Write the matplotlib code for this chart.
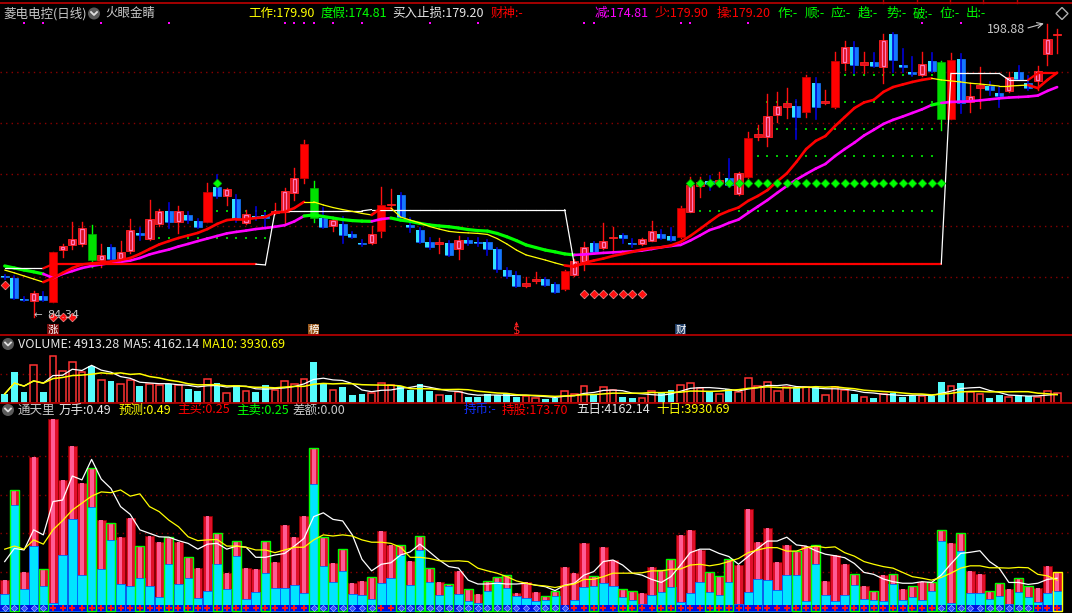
import numpy as np
import pandas as pd
import matplotlib
matplotlib.use("Agg")
import matplotlib.pyplot as plt
from matplotlib.patches import Rectangle, Ellipse, Polygon
from matplotlib.lines import Line2D

plt.rcParams['font.family'] = ['Noto Sans CJK SC', 'DejaVu Sans']

# ---------------- data ----------------
opens = [100.2, 99.6, 91.6, 90.75, 92.6, 90.4, 110.5, 112.5, 112.9, 116.8,
         106.6, 111.7, 106.9, 110.1, 117.0, 114.8, 120.7, 125.8, 121.5, 124.2,
         122.0, 121.6, 135.2, 131.7, 130.4, 121.2, 123.9, 124.2, 124.8, 125.4,
         132.6, 138.7, 134.7, 123.1, 120.0, 120.7, 116.8, 113.4, 113.4, 117.9,
         127.9, 132.0, 120.3, 118.3, 113.5, 112.9, 113.3, 110.9, 114.4, 113.7,
         113.7, 110.8, 102.7, 100.8, 96.6, 98.6, 99.2, 97.3, 95.4, 100.8,
         106.0, 113.2, 111.4, 115.2, 116.4, 113.3, 112.8, 114.2, 116.7, 116.0,
         115.7, 125.5, 135.6, 137.3, 136.6, 138.5, 132.3, 139.1, 154.7, 154.5,
         163.2, 166.5, 166.7, 164.5, 175.8, 167.8, 166.5, 183.6, 189.6, 182.7,
         183.8, 181.8, 194.8, 182.7, 180.1, 178.8, 184.3, 183.8, 161.7, 185.1,
         168.4, 173.6, 174.6, 171.9, 172.6, 179.9, 175.6, 176.5, 186.9, 194.5]
highs = [100.8, 100.4, 92.2, 94.7, 94.1, 109.8, 112.9, 121.6, 121.5, 120.3,
         112.9, 112.5, 114.2, 122.6, 119.1, 130.0, 126.5, 128.9, 127.7, 125.4,
         122.6, 136.7, 139.8, 134.7, 132.0, 126.1, 127.3, 125.0, 128.9, 134.7,
         142.4, 153.5, 137.5, 126.9, 122.6, 123.5, 117.6, 114.4, 119.9, 135.2,
         134.3, 132.8, 122.9, 119.1, 115.1, 115.2, 114.0, 116.0, 115.2, 115.1,
         114.4, 111.3, 103.5, 102.0, 100.1, 102.1, 99.6, 97.7, 102.7, 107.0,
         113.8, 113.7, 121.2, 119.6, 116.8, 114.7, 115.2, 121.8, 118.3, 119.0,
         127.8, 139.1, 139.1, 139.5, 141.1, 145.9, 141.0, 156.7, 159.3, 171.4,
         172.3, 173.6, 169.1, 178.8, 177.5, 173.0, 187.9, 192.2, 191.8, 187.7,
         187.4, 194.7, 195.2, 188.8, 186.0, 187.7, 187.3, 184.3, 187.3, 187.0,
         175.8, 182.1, 176.2, 174.3, 180.1, 182.3, 178.4, 182.3, 198.88, 196.7]
lows = [99.2, 91.4, 90.6, 84.34, 90.6, 90.2, 107.9, 110.9, 112.1, 104.0,
        104.0, 106.2, 106.6, 109.4, 114.4, 114.4, 119.9, 119.1, 117.3, 121.1,
        119.1, 121.5, 130.7, 128.1, 121.5, 120.7, 122.2, 119.1, 124.6, 121.1,
        130.0, 136.8, 121.6, 119.1, 118.1, 113.3, 115.2, 112.1, 112.9, 115.7,
        127.7, 123.0, 117.7, 113.3, 110.9, 109.4, 108.2, 106.9, 112.5, 112.1,
        108.6, 102.1, 99.6, 96.1, 96.1, 97.5, 96.5, 93.6, 95.1, 100.4,
        102.7, 109.4, 111.1, 110.5, 113.2, 111.8, 112.5, 113.9, 114.8, 114.0,
        115.4, 125.2, 131.3, 133.9, 135.9, 135.1, 132.0, 138.8, 153.5, 151.2,
        160.6, 162.2, 153.8, 162.5, 161.5, 167.5, 166.1, 180.8, 179.7, 179.7,
        181.9, 175.8, 180.1, 180.1, 178.4, 178.4, 180.0, 157.4, 161.5, 163.9,
        164.5, 165.8, 171.0, 166.2, 172.2, 176.9, 173.0, 173.0, 182.7, 187.3]
closes = [99.8, 91.8, 91.0, 93.6, 91.0, 109.75, 112.1, 114.8, 119.1, 106.75,
          108.6, 106.9, 109.75, 118.3, 116.4, 122.6, 125.75, 121.3, 125.75, 122.2,
          119.6, 133.2, 131.7, 134.3, 122.6, 124.6, 123.1, 123.1, 125.75, 133.55,
          138.6, 151.9, 123.2, 119.6, 122.2, 116.4, 115.7, 112.75, 116.8, 128.1,
          128.3, 123.5, 119.6, 113.8, 111.6, 113.8, 108.6, 114.4, 113.15, 113.15,
          110.8, 103.1, 100.4, 96.6, 97.5, 99.0, 97.0, 94.3, 102.3, 106.2,
          111.7, 109.9, 114.2, 115.5, 115.1, 113.0, 114.8, 117.9, 115.3, 114.4,
          127.0, 135.9, 137.0, 136.3, 137.8, 135.9, 140.5, 154.2, 155.8, 162.8,
          166.7, 167.8, 162.5, 177.9, 166.45, 168.7, 184.3, 189.6, 182.7, 183.8,
          182.4, 192.5, 184.7, 182.05, 179.1, 183.1, 180.5, 161.65, 184.7, 167.8,
          170.6, 174.9, 173.0, 170.6, 177.9, 177.25, 173.6, 180.4, 192.9, 194.9]
solid_red_bars = [5, 21, 31, 39, 58, 70, 77, 83, 86, 98]
green_bars = [9, 32, 97]

fast_line = [102.7, 101.6, 100.4, 99.2, 98.0, 99.6, 101.6, 103.5, 104.9, 105.3,
             105.7, 106.0, 106.6, 107.4, 109.0, 110.9, 112.7, 114.0, 115.2, 116.2,
             117.2, 118.7, 120.7, 122.2, 122.6, 122.6, 123.0, 123.4, 125.2, 125.4,
             126.9, 129.3, 129.3, 128.1, 127.1, 126.3, 125.6, 124.8, 124.2, 126.9,
             126.9, 123.4, 122.2, 121.1, 119.7, 118.7, 117.8, 117.4, 117.2, 117.0,
             116.6, 115.0, 112.9, 110.5, 108.6, 107.6, 106.6, 105.5, 104.5, 104.0,
             105.5, 106.4, 107.2, 108.2, 109.0, 109.8, 110.7, 111.3, 111.6, 112.3,
             113.7, 116.0, 118.7, 121.5, 124.2, 125.8, 127.1, 129.7, 131.6, 133.9,
             137.3, 140.4, 144.9, 149.9, 153.1, 155.0, 158.9, 162.4, 165.9, 168.1,
             169.1, 172.2, 174.1, 175.1, 176.1, 176.9, 177.5, 176.9, 176.5, 176.1,
             175.6, 175.3, 174.9, 174.5, 174.5, 174.7, 174.9, 173.7, 176.9, 179.7]
slow_line = [104.3, 103.5, 102.7, 102.0, 101.2, 99.6, 101.2, 102.3, 103.5, 104.3,
             104.9, 105.5, 105.9, 106.4, 107.4, 108.8, 109.8, 110.7, 111.9, 112.9,
             114.0, 115.0, 116.0, 117.0, 117.6, 118.1, 118.7, 119.1, 119.6, 120.2,
             121.7, 123.8, 124.2, 123.6, 123.0, 122.4, 122.0, 121.8, 121.7, 122.6,
             123.0, 122.2, 121.7, 120.9, 120.3, 119.9, 119.6, 119.1, 118.5, 118.1,
             117.9, 117.0, 115.7, 114.2, 112.5, 111.5, 110.5, 109.8, 109.0, 108.6,
             108.8, 109.1, 109.4, 109.6, 109.8, 110.0, 110.3, 110.9, 111.6, 112.1,
             112.5, 114.2, 116.2, 118.3, 119.5, 121.1, 122.4, 125.0, 127.5, 130.0,
             132.8, 135.5, 138.0, 140.2, 142.3, 144.1, 147.2, 149.9, 152.4, 155.2,
             157.4, 159.7, 161.3, 162.6, 164.0, 165.4, 167.1, 167.9, 168.3, 168.4,
             168.6, 168.9, 169.3, 169.7, 170.0, 170.2, 170.4, 170.8, 172.6, 174.1]
stop_line = [103.4, 103.4, 103.4, 103.4, 103.4, 105.0, 105.0, 105.0, 105.0, 105.0,
             105.0, 105.0, 105.0, 105.0, 105.0, 105.0, 105.0, 105.0, 105.0, 105.0,
             105.0, 105.0, 105.0, 105.0, 105.0, 105.0, 105.0, 104.7, 125.8, 125.8,
             125.8, 125.8, 125.8, 125.8, 125.8, 125.8, 125.8, 125.8, 126.3, 126.3,
             126.3, 126.3, 126.3, 126.3, 126.3, 126.3, 126.3, 126.3, 126.3, 126.3,
             126.3, 126.3, 126.3, 126.3, 126.3, 126.3, 126.3, 126.3, 126.3, 104.7,
             105.0, 105.0, 105.0, 105.0, 105.0, 105.0, 105.0, 105.0, 105.0, 105.0,
             105.0, 105.0, 105.0, 105.0, 105.0, 105.0, 105.0, 105.0, 105.0, 105.0,
             105.0, 105.0, 105.0, 105.0, 105.0, 105.0, 105.0, 105.0, 105.0, 105.0,
             105.0, 105.0, 105.0, 105.0, 105.0, 105.0, 105.0, 105.0, 179.5, 179.5,
             179.5, 179.5, 179.5, 179.5, 176.9, 176.9, 176.9, 179.5, 179.5, 179.5]
fast_up_ranges = [(5, 31), (39, 40), (59, 96), (107, 109)]
slow_up_ranges = [(5, 31), (39, 40), (60, 96), (98, 109)]
stop_up_ranges = [(5, 26), (60, 97), (107, 109)]

diamond_level = 136.6
diamond_bars = [22] + list(range(71, 98))
red_diamonds = [(0, 96.9), (5, 84.4), (6, 84.4), (7, 84.4),
                (60, 93.4), (61, 93.4), (62, 93.4), (63, 93.4), (64, 93.4), (65, 93.4), (66, 93.4)]
dot_levels = [(115.1, 15, 27), (125.8, 21, 27), (125.9, 72, 96), (147.2, 78, 96),
              (157.7, 78, 96), (168.2, 79, 96), (178.8, 87, 96)]
magenta_dot_bars = [2, 4, 10, 17, 29, 30, 31, 32, 34, 37, 44, 49, 60, 61, 70, 71, 77, 95, 99]
magenta_dot_level = 199.2
price_grid = [100, 120, 140, 160, 180]
high_label, low_label = 198.88, 84.34

volumes = [4300, 15150, 5170, 18600, 5170, 23250, 16000, 20150, 15500, 18080,
           11200, 10850, 9130, 11200, 8270, 9470, 8950, 9130, 8600, 6890,
           5510, 11700, 9800, 4650, 8950, 5680, 5170, 8950, 6030, 10680,
           9130, 11700, 20150, 9130, 6370, 7750, 3790, 4300, 4820, 9800,
           8600, 8270, 6370, 9300, 5680, 3790, 3790, 5170, 2930, 2580,
           4300, 3600, 4480, 2580, 3300, 2500, 1900, 2420, 5530, 4490,
           8470, 4150, 7600, 6390, 2940, 2420, 2420, 5530, 4800, 6390,
           8990, 9680, 7260, 5010, 4490, 6570, 5360, 12270, 8470, 10200,
           5880, 7600, 7600, 7600, 7600, 3970, 7600, 6390, 4490, 2760,
           2420, 4490, 4840, 2940, 3110, 3280, 3280, 10200, 8470, 9680,
           5010, 4490, 2420, 3630, 2940, 3970, 3110, 2940, 5530, 4913]
vol_grid = 14400

ttl_total = [0.79, 3.12, 1.00, 3.98, 1.08, 4.95, 3.38, 4.26, 3.31, 3.70,
             2.34, 2.26, 1.91, 2.40, 1.67, 1.93, 1.78, 1.91, 1.78, 1.39,
             1.10, 2.45, 2.00, 0.97, 1.80, 1.10, 1.08, 1.80, 1.26, 2.22,
             1.91, 2.45, 4.21, 1.91, 1.23, 1.59, 0.72, 0.77, 0.87, 2.06,
             1.70, 1.70, 1.28, 1.93, 1.10, 0.74, 0.69, 1.03, 0.56, 0.44,
             0.77, 0.87, 0.92, 0.46, 0.74, 0.48, 0.38, 0.51, 1.13, 0.97,
             1.75, 0.90, 1.65, 1.31, 0.56, 0.51, 0.46, 1.13, 1.05, 1.34,
             1.96, 2.09, 1.57, 1.00, 0.90, 1.33, 1.18, 2.63, 1.78, 2.14,
             1.26, 1.70, 1.54, 1.66, 1.69, 0.77, 1.44, 1.21, 0.94, 0.64,
             0.51, 0.92, 0.94, 0.56, 0.64, 0.74, 0.74, 2.09, 1.75, 2.00,
             1.03, 0.94, 0.51, 0.72, 0.56, 0.84, 0.64, 0.59, 1.16, 1.00]
ttl_cyan = [0.44, 2.72, 0.56, 1.68, 0.65, 0.19, 1.44, 2.37, 0.92, 2.67,
            1.08, 1.83, 0.69, 0.65, 0.85, 0.65, 0.35, 1.21, 0.69, 0.85,
            0.34, 0.51, 1.21, 0.56, 1.42, 0.30, 0.48, 0.97, 0.59, 0.59,
            0.66, 0.46, 3.28, 1.16, 0.75, 1.03, 0.44, 0.41, 0.30, 0.72,
            0.85, 1.44, 0.66, 1.58, 0.75, 0.41, 0.65, 0.44, 0.25, 0.20,
            0.51, 0.75, 0.59, 0.39, 0.34, 0.25, 0.28, 0.39, 0.02, 0.28,
            0.61, 0.65, 0.72, 0.65, 0.35, 0.28, 0.18, 0.41, 0.49, 0.61,
            0.23, 0.46, 0.75, 0.49, 0.41, 0.75, 0.18, 0.49, 0.82, 0.79,
            0.54, 0.91, 0.91, 0.25, 1.22, 0.41, 0.25, 0.41, 0.66, 0.30,
            0.28, 0.25, 0.70, 0.28, 0.35, 0.28, 0.51, 1.80, 0.20, 1.54,
            0.46, 0.46, 0.30, 0.39, 0.18, 0.49, 0.35, 0.23, 0.46, 0.51]
ttl_white = [1.27, 1.61, 1.57, 2.09, 1.96, 2.82, 2.86, 3.48, 3.38, 3.91,
             3.40, 3.16, 2.69, 2.49, 2.09, 2.00, 1.91, 1.90, 1.81, 1.74,
             1.59, 1.72, 1.74, 1.59, 1.67, 1.64, 1.38, 1.38, 1.44, 1.48,
             1.67, 1.87, 2.43, 2.53, 2.36, 2.32, 1.96, 1.33, 1.03, 1.20,
             1.24, 1.44, 1.52, 1.72, 1.52, 1.31, 1.14, 1.10, 0.79, 0.69,
             0.69, 0.71, 0.69, 0.69, 0.71, 0.66, 0.62, 0.52, 0.66, 0.71,
             0.92, 1.01, 1.27, 1.31, 1.18, 0.97, 0.92, 0.81, 0.73, 0.88,
             1.18, 1.50, 1.59, 1.59, 1.48, 1.40, 1.20, 1.40, 1.61, 1.80,
             1.80, 1.90, 1.70, 1.67, 1.55, 1.46, 1.42, 1.37, 1.22, 0.99,
             0.94, 0.82, 0.75, 0.71, 0.71, 0.75, 0.73, 0.92, 1.21, 1.48,
             1.51, 1.55, 1.27, 1.10, 0.73, 0.73, 0.68, 0.71, 0.81, 0.84]
ttl_yellow = [1.59, 1.67, 1.59, 1.83, 1.72, 2.09, 2.33, 2.60, 2.78, 2.96,
              3.07, 3.05, 3.12, 2.96, 3.02, 2.69, 2.56, 2.34, 2.17, 1.91,
              1.81, 1.83, 1.84, 1.67, 1.67, 1.64, 1.57, 1.57, 1.50, 1.57,
              1.64, 1.64, 1.83, 1.96, 1.93, 1.96, 1.93, 1.83, 1.77, 1.77,
              1.74, 1.64, 1.38, 1.38, 1.35, 1.29, 1.28, 1.29, 1.27, 1.10,
              1.03, 0.97, 0.88, 0.77, 0.71, 0.66, 0.64, 0.60, 0.65, 0.69,
              0.81, 0.81, 0.88, 0.97, 0.97, 0.97, 0.98, 1.03, 1.03, 1.07,
              1.08, 1.18, 1.20, 1.16, 1.20, 1.27, 1.35, 1.50, 1.57, 1.63,
              1.63, 1.54, 1.54, 1.63, 1.67, 1.63, 1.65, 1.50, 1.41, 1.27,
              1.20, 1.14, 1.10, 0.99, 0.88, 0.84, 0.79, 0.86, 0.97, 1.10,
              1.16, 1.16, 1.11, 1.11, 1.10, 1.12, 1.11, 0.94, 0.90, 0.79]
ttl_green_edge = [1, 4, 9, 11, 14, 17, 19, 22, 24, 27, 32, 33, 35, 38, 41, 43, 44, 46, 48,
                  50, 51, 52, 56, 57, 61, 64, 65, 68, 69, 73, 74, 75, 82, 84, 88, 90, 92,
                  94, 96, 97, 99, 102, 103, 105, 106]
ttl_grid = [1, 2, 3, 4]

# ---------------- figure ----------------
W, H = 1072, 613
fig = plt.figure(figsize=(W / 100, H / 100), dpi=100, facecolor='black')
n = len(opens)
XL = (-0.487, 110.54)


def fx(px):
    return px / W


def fy(py):
    return 1 - py / H


def make_ax(top, bot, ylim):
    ax = fig.add_axes([0, 1 - bot / H, 1, (bot - top) / H])
    ax.set_xlim(*XL)
    ax.set_ylim(*ylim)
    ax.axis('off')
    return ax


def mask(ranges):
    m = np.zeros(n, bool)
    for a, b in ranges:
        m[a:b + 1] = True
    return m


axm = make_ax(0, 335, (77.36, 208.08))
axv = make_ax(335, 402.5, (0, 33750))
axt = make_ax(402.5, 613, (-0.059, 5.38))

# grids
for g in price_grid:
    axm.axhline(g, color='#8A0000', lw=1, ls=(0, (1, 3)), zorder=1)
axv.axhline(vol_grid, color='#8A0000', lw=1, ls=(0, (1, 3)), zorder=1)
for g in ttl_grid:
    axt.axhline(g, color='#8A0000', lw=1, ls=(0, (1, 3)), zorder=1)

# ---------------- candles ----------------
bw = 0.84
for i in range(n):
    o, h, l, c = opens[i], highs[i], lows[i], closes[i]
    lo, hi = min(o, c), max(o, c)
    ht = max(hi - lo, 0.45)
    if i in green_bars:
        axm.plot([i, i], [l, h], color='#00FF00', lw=1, zorder=3)
        axm.add_patch(Rectangle((i - bw / 2, lo), bw, ht, fc='#00E000', ec='#00B000', lw=0.5, zorder=4))
    elif c >= o:
        axm.plot([i, i], [l, h], color='#FF1010', lw=1, zorder=3)
        if i in solid_red_bars:
            axm.add_patch(Rectangle((i - bw / 2, lo), bw, ht, fc='#FF0000', ec='#C00000', lw=0.6, zorder=4))
        else:
            axm.add_patch(Rectangle((i - bw / 2, lo), bw, ht, fc='#E0101E', ec='#FF2020', lw=0.6, zorder=4))
            if ht > 1.5:
                axm.add_patch(Rectangle((i - bw * 0.2, lo + 0.4), bw * 0.4, ht - 0.8,
                                        fc='none', ec='#FF78BC', lw=0.9, zorder=5))
    else:
        axm.add_patch(Rectangle((i - bw / 2, lo), bw, ht, fc='#1478FF', ec='#1478FF', lw=0.5, zorder=4))
        axm.add_patch(Rectangle((i - bw / 2, lo), bw * 0.55, ht, fc='#30E0FF', ec='none', zorder=4))
        axm.plot([i, i], [l, h], color='#0000D8', lw=1.2, zorder=5)


def seg_line(ax, vals, up_ranges, c_up, c_dn, lw_up, lw_dn, z):
    up = mask(up_ranges)
    for i in range(1, n):
        ax.plot([i - 1, i], [vals[i - 1], vals[i]],
                color=c_up if up[i] else c_dn, lw=lw_up if up[i] else lw_dn,
                zorder=z, solid_capstyle='round')


seg_line(axm, slow_line, slow_up_ranges, '#FF00FF', '#00FF00', 1.9, 2.3, 6)
seg_line(axm, fast_line, fast_up_ranges, '#FF0000', '#FFFF00', 1.9, 0.9, 7)
seg_line(axm, stop_line, stop_up_ranges, '#FF0000', '#FFFFFF', 1.6, 0.9, 6)

# markers
axm.scatter(diamond_bars, [diamond_level] * len(diamond_bars), marker='D', s=20,
            color='#00FF00', edgecolors='#00A000', linewidths=0.4, zorder=8)
axm.scatter([b for b, _ in red_diamonds], [v for _, v in red_diamonds], marker='D', s=20,
            color='#FF1010', edgecolors='#FFB0B0', linewidths=0.4, zorder=8)
for lev, a, b in dot_levels:
    xs = list(range(a, b + 1))
    axm.scatter(xs, [lev] * len(xs), marker='s', s=1.5, color='#00C800', zorder=2, linewidths=0)
axm.scatter(magenta_dot_bars, [magenta_dot_level] * len(magenta_dot_bars), marker='s', s=4,
            color='#FF00FF', linewidths=0, zorder=8)

# bottom labels in main panel
lab_y = 79.5
for b, s, col in [(5, '涨', '#7A0A0A'), (32, '榜', '#9A5A1E'), (70, '财', '#1E3C64')]:
    axm.text(b, lab_y, s, color='white', fontsize=7.5, ha='center', va='center', zorder=9,
             bbox=dict(boxstyle='square,pad=0.06', fc=col, ec='none'))
axm.text(53, 79.3, '$', color='#FF2020', fontsize=8.5, ha='center', va='center', zorder=9,
         family=['DejaVu Sans'])
axm.scatter([53], [82.2], marker='^', s=8, color='#FF2020', zorder=9, linewidths=0)

axm.text(2.95, 85.2, '←', color='#C8C8C8', fontsize=7.5, ha='left', va='center', zorder=9,
         family=['DejaVu Sans'])
axm.text(4.4, 85.2, f'{low_label:.2f}', color='#C8C8C8', fontsize=8, ha='left', va='center',
         zorder=9, family=['DejaVu Sans'])
axm.text(101.7, 196.6, f'{high_label:.2f}', color='#C8C8C8', fontsize=9, ha='left', va='center', zorder=9)
axm.annotate('', xy=(107.9, 199.2), xytext=(105.7, 196.9),
             arrowprops=dict(arrowstyle='->', color='#C8C8C8', lw=0.8), zorder=9)

# ---------------- volume panel ----------------
for i in range(n):
    up = closes[i] >= opens[i] and i not in green_bars
    if up:
        axv.add_patch(Rectangle((i - 0.35, 0), 0.7, volumes[i], fc='none', ec='#FF3232', lw=1.1, zorder=3))
    else:
        axv.add_patch(Rectangle((i - 0.35, 0), 0.7, volumes[i], fc='#54FCFC', ec='none', zorder=3))
vs = pd.Series(volumes, dtype=float)
axv.plot(np.arange(n), vs.rolling(5, min_periods=1).mean(), color='#FFFFFF', lw=0.9, zorder=4)
axv.plot(np.arange(n), vs.rolling(10, min_periods=1).mean(), color='#FFFF00', lw=1.1, zorder=4)

# ---------------- 通天里 panel ----------------
fast_up = mask(fast_up_ranges)
for i in range(n):
    t, cy = ttl_total[i], ttl_cyan[i]
    axt.add_patch(Rectangle((i - 0.48, 0), 0.96, t, fc='#E0102A', ec='#900000', lw=0.6, zorder=2))
    axt.add_patch(Rectangle((i - 0.2, 0), 0.4, t, fc='#FF5C94', ec='none', zorder=2))
    axt.add_patch(Rectangle((i - 0.48, 0), 0.96, cy, fc='#00E5FF', ec='#0060FF', lw=0.6, zorder=3))
    axt.add_patch(Rectangle((i - 0.48, 0), 0.96, 0.14, fc='#0010E0', ec='none', zorder=3))
    if i in ttl_green_edge:
        axt.add_patch(Rectangle((i - 0.46, 0), 0.92, t, fc='none', ec='#00FF00', lw=1.0, zorder=4))
    if i == n - 1:
        axt.add_patch(Rectangle((i - 0.46, 0), 0.92, t, fc='none', ec='#FFFF00', lw=1.0, zorder=4))
red_m = [i for i in range(n) if fast_up[i]]
blue_m = [i for i in range(n) if not fast_up[i]]
axt.scatter(red_m, [0.08] * len(red_m), marker='P', s=22, color='#FF1010', linewidths=0, zorder=5)
axt.scatter(blue_m, [0.08] * len(blue_m), marker='D', s=10, color='#3050FF',
            edgecolors='#C0D0FF', linewidths=0.4, zorder=5)
axt.plot(np.arange(n), ttl_white, color='#FFFFFF', lw=0.9, zorder=6)
axt.plot(np.arange(n), ttl_yellow, color='#FFFF00', lw=0.9, zorder=6)

# ---------------- separators ----------------
for yy in (2.5, 335, 402.5):
    fig.add_artist(Line2D([0, 1], [fy(yy), fy(yy)], color='#B00000', lw=1.3))
for xx in (883, 917, 950, 983, 1017):
    fig.add_artist(Line2D([fx(xx), fx(xx)], [fy(0), fy(2.5)], color='#B00000', lw=1))


# ---------------- header texts ----------------
def T(x, y, s, c, fs=9):
    fig.text(fx(x), fy(y), s, color=c, fontsize=fs, ha='left', va='center')


def icon(x, y):
    fig.add_artist(Ellipse((fx(x), fy(y)), 12 / W, 12 / H, transform=fig.transFigure,
                           fc='#5A5A5A', ec='none'))
    fig.add_artist(Line2D([fx(x - 3), fx(x), fx(x + 3)], [fy(y - 1.5), fy(y + 1.5), fy(y - 1.5)],
                          color='#E0E0E0', lw=1.3))


hy = 13.5
T(3, hy, '菱电电控(日线)', '#C8C8C8')
icon(94, hy)
T(105, hy, '火眼金睛', '#C8C8C8')
T(248, hy, '工作:179.90', '#FFFF00')
T(321, hy, '度假:174.81', '#00FF00')
T(392.6, hy, '买入止损:179.20', '#E6E6E6')
T(490.7, hy, '财神:-', '#FF0000')
T(595, hy, '减:174.81', '#FF00FF')
T(655, hy, '少:179.90', '#FF0000')
T(717, hy, '操:179.20', '#FF0000')
for xx, s in [(778, '作:-'), (805, '顺:-'), (831, '应:-'), (858, '趋:-'),
              (886, '势:-'), (913, '破:-'), (940, '位:-'), (966, '出:-')]:
    T(xx, hy, s, '#00FF00')
dx, dyy = 1062, 13.5
fig.add_artist(Polygon([(fx(dx - 6), fy(dyy)), (fx(dx), fy(dyy - 6)), (fx(dx + 6), fy(dyy)),
                        (fx(dx), fy(dyy + 6))], closed=True, fill=False, ec='#B0B0B0', lw=1,
                       transform=fig.transFigure))

vy = 344
icon(8, vy)
T(18, vy, 'VOLUME: 4913.28', '#E6E6E6')
T(123, vy, 'MA5: 4162.14', '#E6E6E6')
T(202.5, vy, 'MA10: 3930.69', '#FFFF00')

by = 410
icon(8, by)
T(18, by, '通天里', '#C8C8C8')
T(58.5, by, '万手:0.49', '#E6E6E6')
T(118.8, by, '预测:0.49', '#FFFF00')
T(177, by, '主买:0.25', '#FF0000')
T(236, by, '主卖:0.25', '#00FF00')
T(292.7, by, '差额:0.00', '#C8C8C8')
T(464, by, '持币:-', '#1030FF')
T(501.7, by, '持股:173.70', '#FF0000')
T(576, by, '五日:4162.14', '#E6E6E6')
T(656, by, '十日:3930.69', '#FFFF00')

fig.savefig('out.png', dpi=100, facecolor='black')
